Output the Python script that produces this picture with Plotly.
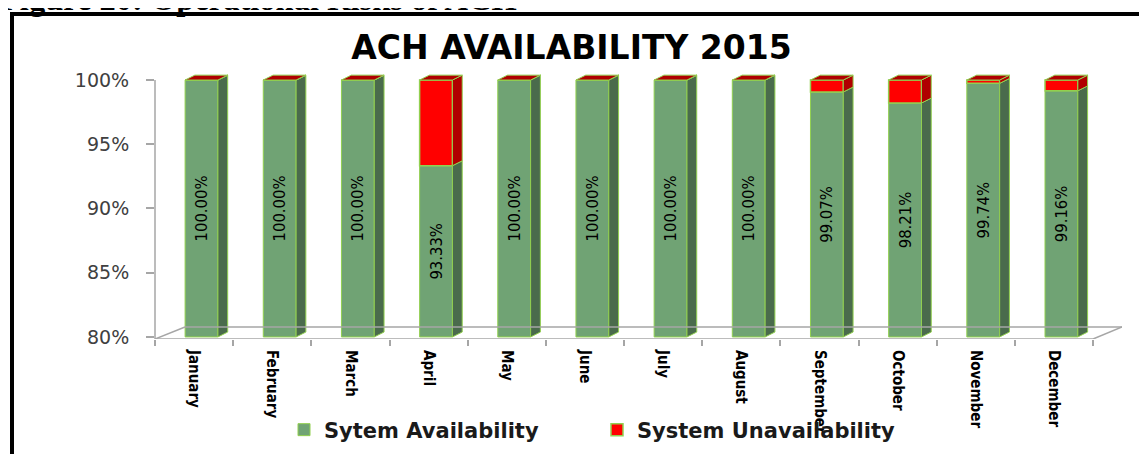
import numpy as np
import plotly.graph_objects as go

months = ["January", "February", "March", "April", "May", "June", "July",
          "August", "September", "October", "November", "December"]
availability = [100.00, 100.00, 100.00, 93.33, 100.00, 100.00, 100.00,
                100.00, 99.07, 98.21, 99.74, 99.16]
unavailability = [0.00, 0.00, 0.00, 6.67, 0.00, 0.00, 0.00,
                  0.00, 0.93, 1.79, 0.26, 0.84]
y_ticks = [80, 85, 90, 95, 100]
y_tick_labels = ["80%", "85%", "90%", "95%", "100%"]

# look of the fake 3d columns
GREEN = "#70a374"
GREEN_SIDE = "#4a6b4c"
RED = "#ff0000"
RED_DARK = "#b00000"
EDGE = "#92d050"
AXIS = "#a6a6a6"
NARROW = "DejaVu Sans Condensed, DejaVu Sans"

W = 0.42      # front face width (category units)
OFF = 0.095   # shift of the column right of the category centre
DX = 0.125    # depth, x
DY = 0.38     # depth, y (percent)
Y0 = 79.84
X_RANGE = [-0.5, 11.87]

idx = np.arange(len(months))
avail = np.array(availability)
unav = np.array(unavailability)
top = avail + unav
x0 = idx + OFF - W / 2
x1 = x0 + W


def polys(pts_per_bar):
    xs, ys = [], []
    for pts in pts_per_bar:
        for px_, py_ in pts:
            xs.append(px_)
            ys.append(py_)
        xs.append(pts[0][0])
        ys.append(pts[0][1])
        xs.append(None)
        ys.append(None)
    return xs, ys


side_g = polys([[(x1[i], 80), (x1[i] + DX, 80 + DY), (x1[i] + DX, avail[i] + DY),
                 (x1[i], avail[i])] for i in idx])
side_r = polys([[(x1[i], avail[i]), (x1[i] + DX, avail[i] + DY),
                 (x1[i] + DX, top[i] + DY), (x1[i], top[i])] for i in idx])
top_r = polys([[(x0[i], top[i]), (x0[i] + DX, top[i] + DY),
                (x1[i] + DX, top[i] + DY), (x1[i], top[i])] for i in idx])

fig = go.Figure()
fig.add_bar(x=idx, y=avail - 80, base=80, width=W, offset=OFF - W / 2,
            name="Sytem Availability",
            marker=dict(color=GREEN, line=dict(color=EDGE, width=1)),
            text=[f"{v:.2f}%" for v in availability], textposition="inside",
            insidetextanchor="middle", textangle=-90,
            textfont=dict(family=NARROW, size=16.5, color="black"))
fig.add_bar(x=idx, y=unav, base=avail, width=W, offset=OFF - W / 2,
            name="System Unavailability",
            marker=dict(color=RED, line=dict(color=EDGE, width=1.5)))
for (xs, ys), col in [(side_g, GREEN_SIDE), (side_r, RED_DARK), (top_r, RED_DARK)]:
    fig.add_scatter(x=xs, y=ys, xaxis="x2", mode="lines", fill="toself",
                    fillcolor=col, line=dict(color=EDGE, width=1),
                    showlegend=False, hoverinfo="skip")

# the page body keeps an 8px margin, so work in page pixels and shift back
OFS = 8
L, R, T, B = 155 - OFS, 1147 - (1122 - OFS), 70 - OFS, 454 - (339 - OFS)
PW, PH = 1147 - L - R, 454 - T - B


def px_x(p):
    return (p - OFS - L) / PW


def px_y(p):
    return (454 - B - (p - OFS)) / PH


shapes = [
    # floor
    dict(type="line", xref="x", yref="y", x0=-0.5, x1=11.5, y0=Y0, y1=Y0,
         line=dict(color=AXIS, width=1.5)),
    dict(type="line", xref="x", yref="y", x0=-0.5 + 0.384, x1=11.87, y0=80.77, y1=80.77,
         line=dict(color=AXIS, width=1.5)),
    dict(type="line", xref="x", yref="y", x0=-0.5, x1=-0.5 + 0.384, y0=Y0, y1=80.77,
         line=dict(color=AXIS, width=1.5)),
    dict(type="line", xref="x", yref="y", x0=11.5, x1=11.87, y0=Y0, y1=80.77,
         line=dict(color=AXIS, width=1.5)),
    # value axis
    dict(type="line", xref="paper", yref="y", x0=0, x1=0, y0=Y0, y1=100,
         line=dict(color=AXIS, width=1.5)),
    # frame
    dict(type="line", xref="paper", yref="paper", x0=px_x(12), x1=px_x(12),
         y0=px_y(13), y1=px_y(470), line=dict(color="black", width=4)),
    dict(type="line", xref="paper", yref="paper", x0=px_x(10), x1=px_x(1160),
         y0=px_y(14), y1=px_y(14), line=dict(color="black", width=4)),
]

fig.update_layout(
    width=1147, height=454,
    margin=dict(l=L, r=R, t=T, b=B, autoexpand=False),
    paper_bgcolor="white", plot_bgcolor="white",
    barmode="overlay",
    shapes=shapes,
    title=dict(text="<b>ACH AVAILABILITY 2015</b>", xref="paper", x=px_x(571.5),
               xanchor="center", y=1 - (47.5 - OFS) / 454, yanchor="middle",
               font=dict(family="DejaVu Sans", size=33, color="black")),
    xaxis=dict(range=X_RANGE, tickvals=[k - 0.5 for k in range(13)],
               ticks="outside", ticklen=6, tickcolor=AXIS, tickwidth=1.5,
               showticklabels=False, showgrid=False, zeroline=False, showline=False),
    xaxis2=dict(range=X_RANGE, overlaying="x", anchor="y", side="bottom",
                tickvals=list(idx), ticktext=months, tickangle=90, ticks="",
                ticklabelstandoff=10, showgrid=False, zeroline=False, showline=False,
                tickfont=dict(family=NARROW, size=15, color="black", weight="bold")),
    yaxis=dict(range=[Y0, 100.78], tickvals=y_ticks, ticktext=y_tick_labels,
               ticks="outside", ticklen=8, tickcolor=AXIS, tickwidth=1.5,
               ticklabelstandoff=13, showgrid=False, zeroline=False, showline=False,
               tickfont=dict(family="DejaVu Sans", size=19, color="#404040")),
    legend=dict(orientation="h", x=px_x(284), xanchor="left", y=px_y(430),
                yanchor="middle", entrywidth=268, traceorder="normal",
                bgcolor="rgba(0,0,0,0)",
                font=dict(family="DejaVu Sans", size=21, color="#1a1a1a", weight="bold")),
    annotations=[dict(text="<b>Figure 20: Operational Risks of ACH</b>", xref="paper",
                      yref="paper", x=px_x(-2), y=px_y(-1.5), xanchor="left",
                      yanchor="middle", showarrow=False,
                      font=dict(family="Liberation Serif", size=32.5, color="black"))],
)

fig.write_html("out.html")
